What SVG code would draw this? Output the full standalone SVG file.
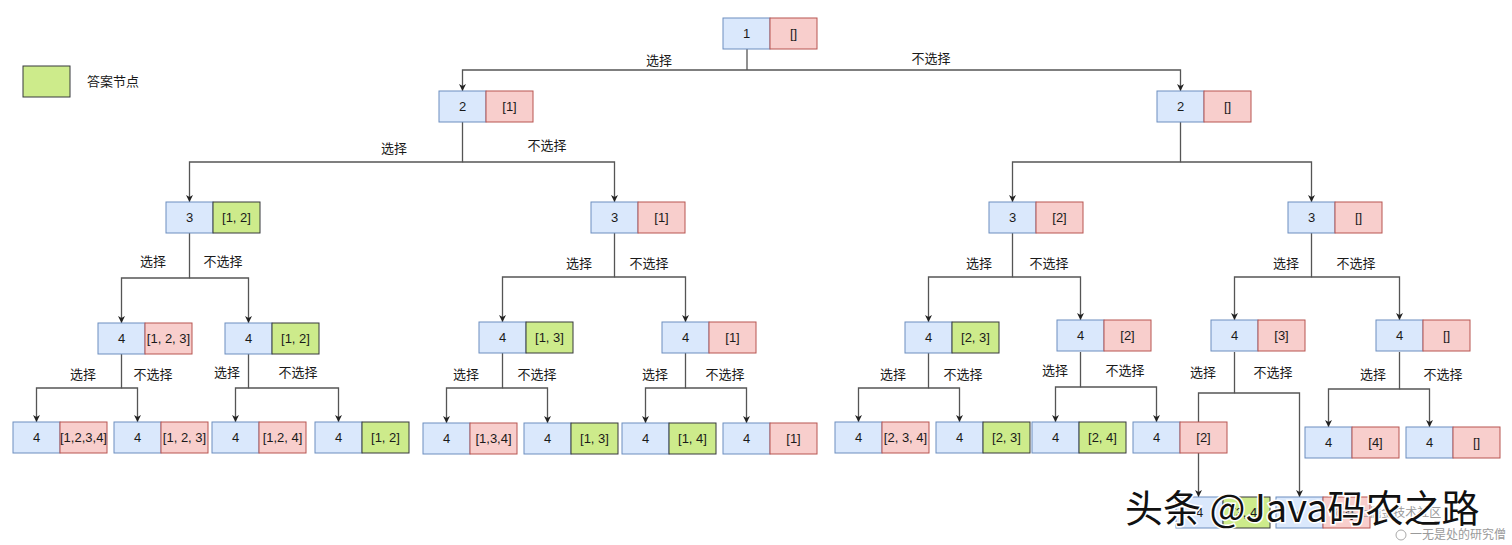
<svg xmlns="http://www.w3.org/2000/svg" width="1512" height="545" viewBox="0 0 1512 545">
<defs>
<marker id="arr" viewBox="0 0 10 10" refX="10" refY="5" markerWidth="7" markerHeight="7" markerUnits="userSpaceOnUse" orient="auto">
<path d="M0,0 L10,5 L0,10 L3,5 Z" fill="#222"/>
</marker>
<style>
text{font-family:"Liberation Sans","Noto Sans CJK SC",sans-serif;font-size:13px;fill:#1a1a1a}
.b{fill:#dae8fc;stroke:#6c8ebf;stroke-width:1}
.r{fill:#f8cecc;stroke:#b85450;stroke-width:1}
.g{fill:#cdeb8b;stroke:#36393d;stroke-width:1}
.t{text-anchor:middle;dominant-baseline:central}
.lbl{text-anchor:middle;dominant-baseline:central}
.e{fill:none;stroke:#555;stroke-width:1.3;marker-end:url(#arr)}
.s{fill:none;stroke:#555;stroke-width:1.3}
.wm{font-size:38px;fill:#111;stroke:#fff;stroke-width:3;paint-order:stroke;font-family:"Noto Sans CJK SC","Liberation Sans",sans-serif}
.wm2{font-size:12px;fill:#9a9a9a}
</style>
</defs>
<rect width="1512" height="545" fill="#fff"/>

<g id="legend">
<rect x="23" y="66" width="47" height="31" class="g"/>
<text x="87" y="81" dominant-baseline="central">答案节点</text>
</g>

<g id="connectors">
<path class="s" d="M747,49 V70"/>
<path class="e" d="M747,70 H462.5 V91"/>
<path class="e" d="M747,70 H1180.5 V91"/>
<path class="e" d="M462.5,122 V162 H189.5 V202"/>
<path class="e" d="M462.5,162 H614.5 V202"/>
<path class="e" d="M1180.5,122 V162 H1012.5 V202"/>
<path class="e" d="M1180.5,162 H1311.5 V202"/>
<path class="e" d="M189.5,233 V278 H121.5 V323"/>
<path class="e" d="M189.5,278 H248.5 V323"/>
<path class="e" d="M614.5,233 V277 H502.5 V322"/>
<path class="e" d="M614.5,277 H685.5 V322"/>
<path class="e" d="M1012.5,233 V277 H928.5 V322"/>
<path class="e" d="M1012.5,277 H1080.5 V320"/>
<path class="e" d="M1311.5,233 V277 H1234.5 V320"/>
<path class="e" d="M1311.5,277 H1399.5 V320"/>
<path class="e" d="M121.5,354 V388 H36.5 V422"/>
<path class="e" d="M121.5,388 H137.5 V422"/>
<path class="e" d="M248.5,354 V388 H235.5 V422"/>
<path class="e" d="M248.5,388 H338.5 V422"/>
<path class="e" d="M502.5,353 V388 H446.5 V423"/>
<path class="e" d="M502.5,388 H547.5 V423"/>
<path class="e" d="M685.5,353 V388 H645.5 V423"/>
<path class="e" d="M685.5,388 H746.5 V423"/>
<path class="e" d="M928.5,353 V388 H858.5 V422"/>
<path class="e" d="M928.5,388 H959.5 V422"/>
<path class="e" d="M1080.5,352 V387 H1055.5 V422"/>
<path class="e" d="M1080.5,387 H1156.5 V422"/>
<path class="e" d="M1234.5,352 V393 H1198.5 V497"/>
<path class="e" d="M1234.5,393 H1299.5 V497"/>
<path class="e" d="M1399.5,352 V389 H1328.5 V427"/>
<path class="e" d="M1399.5,389 H1429.5 V427"/>
</g>

<g id="edge-labels">
<text class="lbl" x="659" y="60">选择</text><text class="lbl" x="931" y="58">不选择</text>
<text class="lbl" x="394" y="148">选择</text><text class="lbl" x="547" y="145">不选择</text>
<text class="lbl" x="153" y="261">选择</text><text class="lbl" x="223" y="261">不选择</text>
<text class="lbl" x="579" y="263">选择</text><text class="lbl" x="649" y="263">不选择</text>
<text class="lbl" x="979" y="263">选择</text><text class="lbl" x="1049" y="263">不选择</text>
<text class="lbl" x="1286" y="263">选择</text><text class="lbl" x="1356" y="263">不选择</text>
<text class="lbl" x="83" y="374">选择</text><text class="lbl" x="153" y="374">不选择</text>
<text class="lbl" x="227" y="372">选择</text><text class="lbl" x="298" y="372">不选择</text>
<text class="lbl" x="466" y="374">选择</text><text class="lbl" x="537" y="374">不选择</text>
<text class="lbl" x="655" y="374">选择</text><text class="lbl" x="725" y="374">不选择</text>
<text class="lbl" x="893" y="374">选择</text><text class="lbl" x="963" y="374">不选择</text>
<text class="lbl" x="1055" y="370">选择</text><text class="lbl" x="1125" y="370">不选择</text>
<text class="lbl" x="1203" y="372">选择</text><text class="lbl" x="1273" y="372">不选择</text>
<text class="lbl" x="1373" y="374">选择</text><text class="lbl" x="1443" y="374">不选择</text>
</g>

<g id="n1"><rect x="723" y="18" width="47" height="31" class="b"/><rect x="770" y="18" width="47" height="31" class="r"/><text class="t" x="746.5" y="33.5">1</text><text class="t" x="793.5" y="33.5">[]</text></g>
<g id="n2a"><rect x="439" y="91" width="47" height="31" class="b"/><rect x="486" y="91" width="47" height="31" class="r"/><text class="t" x="462.5" y="106.5">2</text><text class="t" x="509.5" y="106.5">[1]</text></g>
<g id="n2b"><rect x="1157" y="91" width="47" height="31" class="b"/><rect x="1204" y="91" width="47" height="31" class="r"/><text class="t" x="1180.5" y="106.5">2</text><text class="t" x="1227.5" y="106.5">[]</text></g>

<g id="n3a"><rect x="166" y="202" width="47" height="31" class="b"/><rect x="213" y="202" width="47" height="31" class="g"/><text class="t" x="189.5" y="217.5">3</text><text class="t" x="236.5" y="217.5">[1, 2]</text></g>
<g id="n3b"><rect x="591" y="202" width="47" height="31" class="b"/><rect x="638" y="202" width="47" height="31" class="r"/><text class="t" x="614.5" y="217.5">3</text><text class="t" x="661.5" y="217.5">[1]</text></g>
<g id="n3c"><rect x="989" y="202" width="47" height="31" class="b"/><rect x="1036" y="202" width="47" height="31" class="r"/><text class="t" x="1012.5" y="217.5">3</text><text class="t" x="1059.5" y="217.5">[2]</text></g>
<g id="n3d"><rect x="1288" y="202" width="47" height="31" class="b"/><rect x="1335" y="202" width="47" height="31" class="r"/><text class="t" x="1311.5" y="217.5">3</text><text class="t" x="1358.5" y="217.5">[]</text></g>

<g id="n4a"><rect x="98" y="323" width="47" height="31" class="b"/><rect x="145" y="323" width="47" height="31" class="r"/><text class="t" x="121.5" y="338.5">4</text><text class="t" x="168.5" y="338.5">[1, 2, 3]</text></g>
<g id="n4b"><rect x="225" y="323" width="47" height="31" class="b"/><rect x="272" y="323" width="47" height="31" class="g"/><text class="t" x="248.5" y="338.5">4</text><text class="t" x="295.5" y="338.5">[1, 2]</text></g>
<g id="n4c"><rect x="479" y="322" width="47" height="31" class="b"/><rect x="526" y="322" width="47" height="31" class="g"/><text class="t" x="502.5" y="337.5">4</text><text class="t" x="549.5" y="337.5">[1, 3]</text></g>
<g id="n4d"><rect x="662" y="322" width="47" height="31" class="b"/><rect x="709" y="322" width="47" height="31" class="r"/><text class="t" x="685.5" y="337.5">4</text><text class="t" x="732.5" y="337.5">[1]</text></g>
<g id="n4e"><rect x="905" y="322" width="47" height="31" class="b"/><rect x="952" y="322" width="47" height="31" class="g"/><text class="t" x="928.5" y="337.5">4</text><text class="t" x="975.5" y="337.5">[2, 3]</text></g>
<g id="n4f"><rect x="1057" y="320" width="47" height="31" class="b"/><rect x="1104" y="320" width="47" height="31" class="r"/><text class="t" x="1080.5" y="335.5">4</text><text class="t" x="1127.5" y="335.5">[2]</text></g>
<g id="n4g"><rect x="1211" y="320" width="47" height="31" class="b"/><rect x="1258" y="320" width="47" height="31" class="r"/><text class="t" x="1234.5" y="335.5">4</text><text class="t" x="1281.5" y="335.5">[3]</text></g>
<g id="n4h"><rect x="1376" y="320" width="47" height="31" class="b"/><rect x="1423" y="320" width="47" height="31" class="r"/><text class="t" x="1399.5" y="335.5">4</text><text class="t" x="1446.5" y="335.5">[]</text></g>

<g id="n5a"><rect x="13" y="422" width="47" height="31" class="b"/><rect x="60" y="422" width="47" height="31" class="r"/><text class="t" x="36.5" y="437.5">4</text><text class="t" x="83.5" y="437.5">[1,2,3,4]</text></g>
<g id="n5b"><rect x="114" y="422" width="47" height="31" class="b"/><rect x="161" y="422" width="47" height="31" class="r"/><text class="t" x="137.5" y="437.5">4</text><text class="t" x="184.5" y="437.5">[1, 2, 3]</text></g>
<g id="n5c"><rect x="212" y="422" width="47" height="31" class="b"/><rect x="259" y="422" width="47" height="31" class="r"/><text class="t" x="235.5" y="437.5">4</text><text class="t" x="282.5" y="437.5">[1,2, 4]</text></g>
<g id="n5d"><rect x="315" y="422" width="47" height="31" class="b"/><rect x="362" y="422" width="47" height="31" class="g"/><text class="t" x="338.5" y="437.5">4</text><text class="t" x="385.5" y="437.5">[1, 2]</text></g>
<g id="n5e"><rect x="423" y="423" width="47" height="31" class="b"/><rect x="470" y="423" width="47" height="31" class="r"/><text class="t" x="446.5" y="438.5">4</text><text class="t" x="493.5" y="438.5">[1,3,4]</text></g>
<g id="n5f"><rect x="524" y="423" width="47" height="31" class="b"/><rect x="571" y="423" width="47" height="31" class="g"/><text class="t" x="547.5" y="438.5">4</text><text class="t" x="594.5" y="438.5">[1, 3]</text></g>
<g id="n5g"><rect x="622" y="423" width="47" height="31" class="b"/><rect x="669" y="423" width="47" height="31" class="g"/><text class="t" x="645.5" y="438.5">4</text><text class="t" x="692.5" y="438.5">[1, 4]</text></g>
<g id="n5h"><rect x="723" y="423" width="47" height="31" class="b"/><rect x="770" y="423" width="47" height="31" class="r"/><text class="t" x="746.5" y="438.5">4</text><text class="t" x="793.5" y="438.5">[1]</text></g>
<g id="n5i"><rect x="835" y="422" width="47" height="31" class="b"/><rect x="882" y="422" width="47" height="31" class="r"/><text class="t" x="858.5" y="437.5">4</text><text class="t" x="905.5" y="437.5">[2, 3, 4]</text></g>
<g id="n5j"><rect x="936" y="422" width="47" height="31" class="b"/><rect x="983" y="422" width="47" height="31" class="g"/><text class="t" x="959.5" y="437.5">4</text><text class="t" x="1006.5" y="437.5">[2, 3]</text></g>
<g id="n5k"><rect x="1032" y="422" width="47" height="31" class="b"/><rect x="1079" y="422" width="47" height="31" class="g"/><text class="t" x="1055.5" y="437.5">4</text><text class="t" x="1102.5" y="437.5">[2, 4]</text></g>
<g id="n5l"><rect x="1133" y="422" width="47" height="31" class="b"/><rect x="1180" y="422" width="47" height="31" class="r"/><text class="t" x="1156.5" y="437.5">4</text><text class="t" x="1203.5" y="437.5">[2]</text></g>
<g id="n5m"><rect x="1305" y="427" width="47" height="31" class="b"/><rect x="1352" y="427" width="47" height="31" class="r"/><text class="t" x="1328.5" y="442.5">4</text><text class="t" x="1375.5" y="442.5">[4]</text></g>
<g id="n5n"><rect x="1406" y="427" width="47" height="31" class="b"/><rect x="1453" y="427" width="47" height="31" class="r"/><text class="t" x="1429.5" y="442.5">4</text><text class="t" x="1476.5" y="442.5">[]</text></g>

<g id="n6a"><rect x="1176" y="497" width="47" height="31" class="b"/><rect x="1223" y="497" width="47" height="31" class="g"/><text class="t" x="1199.5" y="512.5">4</text><text class="t" x="1246.5" y="512.5">[3, 4]</text></g>
<g id="n6b"><rect x="1276" y="497" width="47" height="31" class="b"/><rect x="1323" y="497" width="47" height="31" class="r"/><text class="t" x="1299.5" y="512.5">4</text><text class="t" x="1346.5" y="512.5">[3]</text></g>

<g id="watermark">
<text class="wm2" x="1333" y="517">@稀土掘金技术社区</text>
<text class="wm" x="1125" y="522">头条 @Java码农之路</text>
<circle cx="1401" cy="535" r="5" fill="none" stroke="#aaa" stroke-width="1"/>
<text class="wm2" x="1410" y="539">一无是处的研究僧</text>
</g>
</svg>
